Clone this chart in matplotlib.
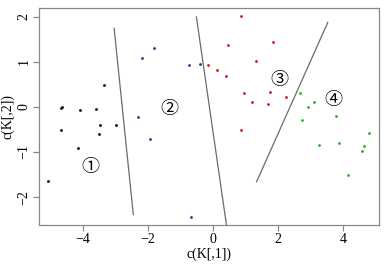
import numpy as np
import matplotlib
matplotlib.use("Agg")
import matplotlib.pyplot as plt

# cluster points
black_x = [-3.34, -4.63, -4.66, -4.08, -3.60, -3.47, -2.97, -4.68, -3.52, -4.14, -5.07]
black_y = [0.49, 0.00, -0.03, -0.07, -0.04, -0.40, -0.41, -0.51, -0.59, -0.92, -1.64]
blue_x = [-1.80, -2.18, -0.73, -0.40, -2.31, -1.95, -0.68]
blue_y = [1.31, 1.09, 0.94, 0.95, -0.22, -0.70, -2.45]
red_x = [0.85, 0.46, 1.85, 1.31, -0.15, 0.11, 0.41, 0.96, 1.76, 2.25, 1.21, 1.70, 0.86]
red_y = [2.02, 1.37, 1.45, 1.03, 0.94, 0.83, 0.68, 0.31, 0.33, 0.22, 0.11, 0.07, -0.50]
green_x = [2.69, 3.12, 2.93, 2.73, 3.79, 4.80, 3.27, 3.88, 4.65, 4.59, 4.15]
green_y = [0.32, 0.12, -0.01, -0.29, -0.21, -0.57, -0.84, -0.81, -0.86, -0.98, -1.51]

# boundary segments (x0, x1), (y0, y1)
lines = [((-3.04, -2.45), (1.75, -2.39)),
         ((-0.51, 0.43), (2.00, -2.70)),
         ((3.53, 1.34), (1.88, -1.66))]

labels = ["\u2460", "\u2461", "\u2462", "\u2463"]
label_x = [-3.76, -1.34, 2.04, 3.70]
label_y = [-1.34, -0.04, 0.61, 0.16]

plt.rcParams['font.family'] = ['Liberation Serif', 'DejaVu Sans']

fig = plt.figure(figsize=(3.91, 2.65), dpi=100)
ax = fig.add_axes([0.0997, 0.151, 0.8693, 0.819])

for (lx, ly) in lines:
    ax.plot(lx, ly, color="#6a6a6a", lw=0.9)

ax.scatter(black_x, black_y, s=4, color="black", zorder=3, linewidths=0)
ax.scatter(blue_x, blue_y, s=4, color="#1a3a9a", zorder=3, linewidths=0)
ax.scatter(red_x, red_y, s=4, color="#dd1111", zorder=3, linewidths=0)
ax.scatter(green_x, green_y, s=4, color="#22b022", zorder=3, linewidths=0)

for t, x, y in zip(labels, label_x, label_y):
    ax.text(x, y, t, ha="center", va="center", fontsize=13,
            family=['Noto Sans CJK SC', 'DejaVu Sans'])

ax.set_xlim(-5.35, 5.1)
ax.set_ylim(-2.62, 2.2)
ax.set_xticks([-4, -2, 0, 2, 4])
ax.set_yticks([-2, -1, 0, 1, 2])
ax.set_xticklabels(["\u22124", "\u22122", "0", "2", "4"], fontsize=10)
ax.set_yticklabels(["\u22122", "\u22121", "0", "1", "2"], fontsize=10,
                   rotation=90, va="center")
for sp in ax.spines.values():
    sp.set_color("#888888")
    sp.set_linewidth(0.9)
ax.tick_params(direction="out", length=4, color="#888888", width=0.9, pad=2)
ax.set_xlabel("c(K[,1])", fontsize=10, labelpad=1)
ax.set_ylabel("c(K[,2])", fontsize=10, labelpad=2)

fig.savefig("out.png", dpi=100)
